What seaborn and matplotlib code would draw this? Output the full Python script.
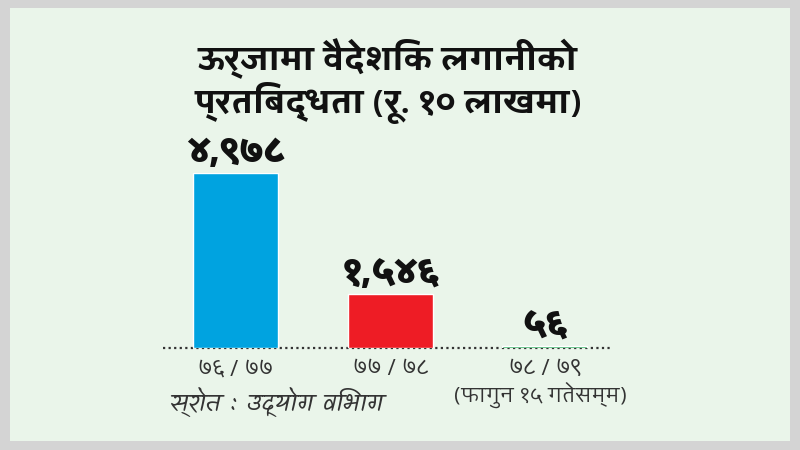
import os
import pandas as pd
import matplotlib.pyplot as plt
import seaborn as sns
from matplotlib import font_manager
from matplotlib.ft2font import FT2Font
from matplotlib.patches import Rectangle

# =====================================================
# DATA
# =====================================================
years = ["७६ / ७७", "७७ / ७८", "७८ / ७९"]
values = [4978, 1546, 56]
value_labels = ["४,९७८", "१,५४६", "५६"]
bar_colors = ["#00a3e0", "#ee1c25", "#13a04a"]

title_text = "ऊर्जामा वैदेशिक लगानीको\nप्रतिबद्धता (रू. १० लाखमा)"
note_text = "(फागुन १५ गतेसम्म)"
source_text = "स्रोत : उद्योग विभाग"

df = pd.DataFrame({"year": years, "value": values})

# =====================================================
# FONTS (Devanagari)
# =====================================================
GF = "/usr/share/fonts/truetype/google-fonts/"


def any_deva_font():
    for path in sorted(font_manager.findSystemFonts()):
        try:
            if 0x0915 in FT2Font(path).get_charmap():
                return path
        except Exception:
            continue
    return None


fallback = None


def font_path(*names):
    global fallback
    for n in names:
        if os.path.exists(GF + n):
            return GF + n
    if fallback is None:
        fallback = any_deva_font()
    return fallback


f_title = font_path("Khula-Bold.ttf", "Khula-SemiBold.ttf")
f_value = font_path("Khula-ExtraBold.ttf", "Khula-Bold.ttf")
f_tick = font_path("Khula-Regular.ttf", "Khula-Light.ttf")
f_source = font_path("Kalam-Regular.ttf", "Khula-Regular.ttf")


def fp(path, size):
    if path is None:
        return font_manager.FontProperties(family="DejaVu Sans", size=size)
    return font_manager.FontProperties(fname=path, size=size)


# =====================================================
# FIGURE
# =====================================================
sns.set_style("white")
fig = plt.figure(figsize=(8, 4.5), dpi=100, facecolor="#d4d4d4")
fig.patches.append(Rectangle((10 / 800, 9 / 450), 780 / 800, 433 / 450,
                             transform=fig.transFigure, facecolor="#eaf5ea",
                             edgecolor="none", zorder=-5))

ax = fig.add_axes([163 / 800, 1 - 348 / 450, 450 / 800, 175 / 450])
ax.set_facecolor("none")

sns.barplot(data=df, x="year", y="value", hue="year", palette=bar_colors,
            width=0.55, legend=False, ax=ax, saturation=1, zorder=3)

ax.set_xlim(-0.47, 2.44)
ax.set_ylim(0, max(values))
for s in ax.spines.values():
    s.set_visible(False)
ax.axhline(0, color="#333333", linestyle=(0, (1, 1.5)), linewidth=1.6,
           clip_on=False, zorder=1)
ax.set_yticks([])
ax.set_xlabel("")
ax.set_ylabel("")
ax.tick_params(axis="x", length=0, pad=8)
ax.set_xticks(range(len(years)))
ax.set_xticklabels(years, fontproperties=fp(f_tick, 17), color="#333333")

# value labels above bars
for i, (v, lab) in enumerate(zip(values, value_labels)):
    ax.annotate(lab, (i, v), xytext=(0, 2), textcoords="offset points",
                ha="center", va="bottom", fontproperties=fp(f_value, 26),
                color="#111111")

# note under the last tick
ax.annotate(note_text, (2, 0), xytext=(-3, -34), textcoords="offset points",
            ha="center", va="center", fontproperties=fp(f_tick, 16),
            color="#333333")

# title and source
fig.text(388 / 800, 1 - 81 / 450, title_text, ha="center", va="center",
         fontproperties=fp(f_title, 24), color="#111111", linespacing=1.12)
fig.text(170 / 800, 1 - 402 / 450, source_text, ha="left", va="center",
         fontproperties=fp(f_source, 18), color="#333333")

fig.savefig("out.png", dpi=100, facecolor=fig.get_facecolor())
